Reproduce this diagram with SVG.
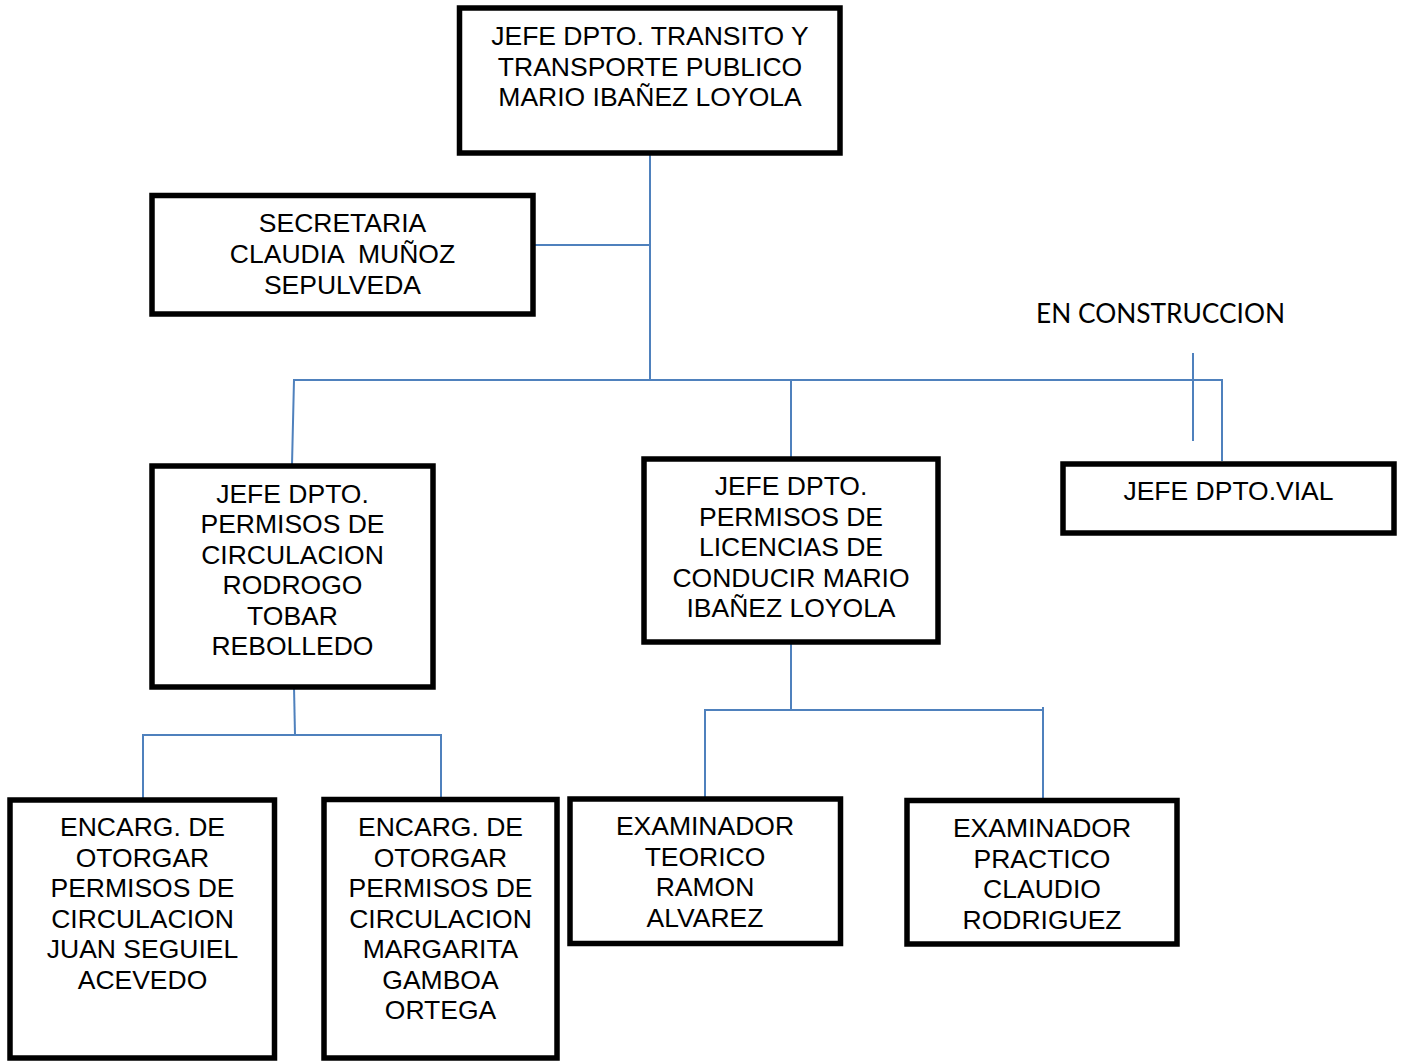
<svg xmlns="http://www.w3.org/2000/svg" width="1404" height="1061" viewBox="0 0 1404 1061">
<style>
.box{fill:#ffffff;stroke:#000000;stroke-width:5.5}
.t{font-family:"Liberation Sans",Arial,sans-serif;font-size:26.5px;fill:#000000;text-anchor:middle}
.c{fill:none;stroke:#4F81BD;stroke-width:2}
.note{font-family:Lato,"Open Sans",sans-serif;font-size:26px;fill:#000000}
</style>
<rect width="1404" height="1061" fill="#ffffff"/>
<g id="connectors">
<polyline class="c" points="650,151 650,380"/>
<polyline class="c" points="534,245 650,245"/>
<polyline class="c" points="292,465 294,380 1222,380 1222,461"/>
<polyline class="c" points="791,380 791,458"/>
<polyline class="c" points="1193,353 1193,441"/>
<polyline class="c" points="294,687 295,735"/>
<polyline class="c" points="143,800 143,735 441,735 441,800"/>
<polyline class="c" points="791,641 791,710"/>
<polyline class="c" points="705,799 705,710 1043,710 1043,801"/>
<line class="c" x1="1043" y1="707" x2="1043" y2="712"/>
</g>
<g id="jefe-transito">
<rect class="box" x="459.5" y="8" width="380.5" height="145"/>
<text class="t" x="650" y="45">JEFE DPTO. TRANSITO Y</text>
<text class="t" x="650" y="75.5">TRANSPORTE PUBLICO</text>
<text class="t" x="650" y="106">MARIO IBAÑEZ LOYOLA</text>
</g>
<g id="secretaria">
<rect class="box" x="152" y="195.5" width="381" height="118.5"/>
<text class="t" x="342.5" y="231.5">SECRETARIA</text>
<text class="t" x="342.5" y="262.5" style="white-space:pre" xml:space="preserve">CLAUDIA  MUÑOZ</text>
<text class="t" x="342.5" y="293.5">SEPULVEDA</text>
</g>
<g id="en-construccion">
<text class="note" x="1036" y="322.5" textLength="249" lengthAdjust="spacingAndGlyphs">EN CONSTRUCCION</text>
</g>
<g id="jefe-vial">
<rect class="box" x="1063" y="464" width="331" height="69"/>
<text class="t" x="1228.5" y="500">JEFE DPTO.VIAL</text>
</g>
<g id="jefe-permisos-circulacion">
<rect class="box" x="152" y="466" width="281" height="221"/>
<text class="t" x="292.5" y="502.5">JEFE DPTO.</text>
<text class="t" x="292.5" y="533">PERMISOS DE</text>
<text class="t" x="292.5" y="563.5">CIRCULACION</text>
<text class="t" x="292.5" y="594">RODROGO</text>
<text class="t" x="292.5" y="624.5">TOBAR</text>
<text class="t" x="292.5" y="655">REBOLLEDO</text>
</g>
<g id="jefe-licencias">
<rect class="box" x="644" y="459" width="294" height="183"/>
<text class="t" x="791" y="495">JEFE DPTO.</text>
<text class="t" x="791" y="525.5">PERMISOS DE</text>
<text class="t" x="791" y="556">LICENCIAS DE</text>
<text class="t" x="791" y="586.5">CONDUCIR MARIO</text>
<text class="t" x="791" y="617">IBAÑEZ LOYOLA</text>
</g>
<g id="encarg-juan">
<rect class="box" x="10" y="800" width="264.5" height="258"/>
<text class="t" x="142.5" y="836">ENCARG. DE</text>
<text class="t" x="142.5" y="866.5">OTORGAR</text>
<text class="t" x="142.5" y="897">PERMISOS DE</text>
<text class="t" x="142.5" y="927.5">CIRCULACION</text>
<text class="t" x="142.5" y="958">JUAN SEGUIEL</text>
<text class="t" x="142.5" y="988.5">ACEVEDO</text>
</g>
<g id="encarg-margarita">
<rect class="box" x="324" y="799.5" width="233" height="258.5"/>
<text class="t" x="440.5" y="836">ENCARG. DE</text>
<text class="t" x="440.5" y="866.5">OTORGAR</text>
<text class="t" x="440.5" y="897">PERMISOS DE</text>
<text class="t" x="440.5" y="927.5">CIRCULACION</text>
<text class="t" x="440.5" y="958">MARGARITA</text>
<text class="t" x="440.5" y="988.5">GAMBOA</text>
<text class="t" x="440.5" y="1019">ORTEGA</text>
</g>
<g id="examinador-teorico">
<rect class="box" x="570" y="799" width="270.5" height="144.5"/>
<text class="t" x="705" y="835">EXAMINADOR</text>
<text class="t" x="705" y="865.5">TEORICO</text>
<text class="t" x="705" y="896">RAMON</text>
<text class="t" x="705" y="926.5">ALVAREZ</text>
</g>
<g id="examinador-practico">
<rect class="box" x="907" y="800.5" width="270" height="143.5"/>
<text class="t" x="1042" y="837">EXAMINADOR</text>
<text class="t" x="1042" y="867.5">PRACTICO</text>
<text class="t" x="1042" y="898">CLAUDIO</text>
<text class="t" x="1042" y="928.5">RODRIGUEZ</text>
</g>
</svg>
